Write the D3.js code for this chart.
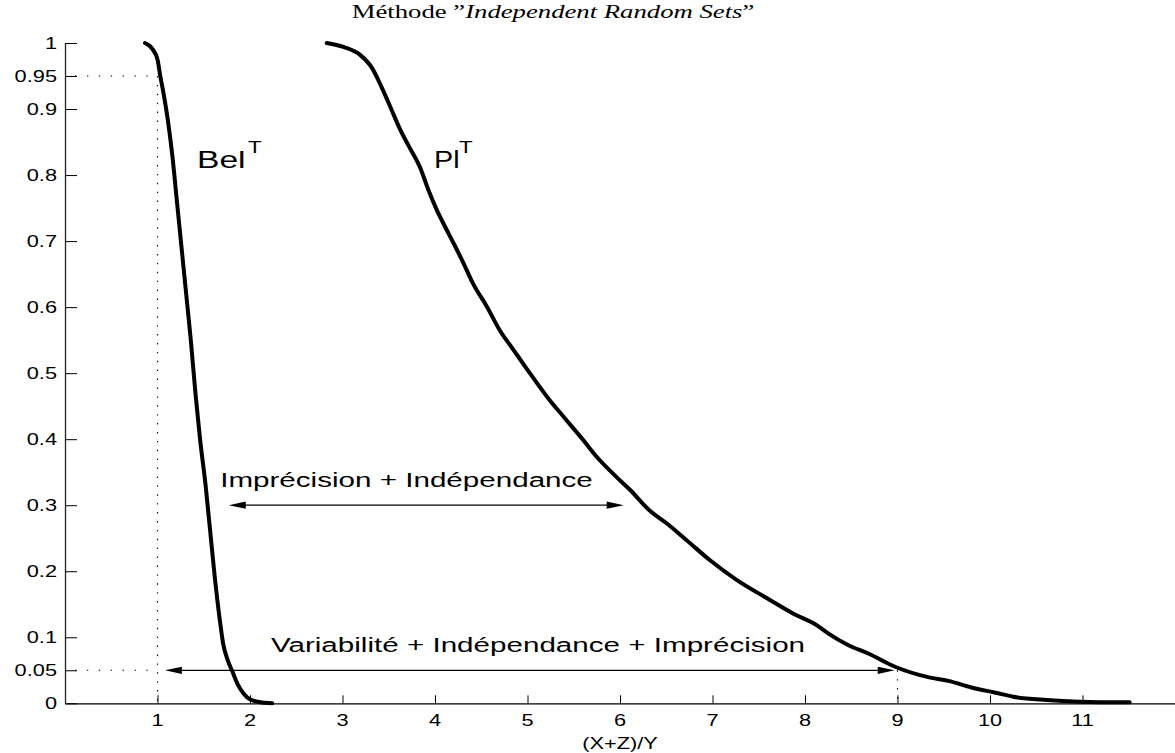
<!DOCTYPE html>
<html>
<head>
<meta charset="utf-8">
<script src="https://cdn.jsdelivr.net/npm/d3@7"></script>
<style>
  html, body { margin: 0; padding: 0; background: #fff; }
  svg { display: block; }
  .sans { font-family: "Liberation Sans", Arial, Helvetica, sans-serif; }
  .serif { font-family: "Liberation Serif", "DejaVu Serif", serif; }
</style>
</head>
<body>
<svg id="chart" width="1175" height="753"></svg>
<script>
// Lower bound (belief) of the output distribution
const belX = [0.865, 0.95, 1.0, 1.03, 1.07, 1.11, 1.16, 1.21, 1.26, 1.31, 1.36, 1.41, 1.46, 1.52, 1.57, 1.62, 1.67, 1.71, 1.76, 1.81, 1.87, 1.93, 2.0, 2.1, 2.24];
const belY = [1.0, 0.99, 0.975, 0.95, 0.92, 0.885, 0.83, 0.76, 0.69, 0.62, 0.55, 0.47, 0.40, 0.33, 0.26, 0.19, 0.13, 0.09, 0.065, 0.048, 0.028, 0.015, 0.006, 0.002, 0.0];

// Upper bound (plausibility) of the output distribution
const plX = [2.83, 3.01, 3.19, 3.32, 3.42, 3.53, 3.62, 3.72, 3.84, 3.93, 4.02, 4.09, 4.20, 4.31, 4.41, 4.56, 4.70, 4.85, 4.99, 5.24, 5.39, 5.60, 5.75, 5.96, 6.11, 6.32, 6.50, 6.72, 6.97, 7.26, 7.59, 7.87, 8.13, 8.25, 8.47, 8.69, 8.98, 9.32, 9.55, 9.80, 10.06, 10.25, 10.61, 10.97, 11.51];
const plY = [1.0, 0.994, 0.982, 0.962, 0.934, 0.899, 0.870, 0.843, 0.811, 0.777, 0.747, 0.727, 0.697, 0.666, 0.636, 0.601, 0.565, 0.535, 0.507, 0.459, 0.434, 0.399, 0.373, 0.343, 0.323, 0.292, 0.273, 0.247, 0.217, 0.187, 0.159, 0.136, 0.118, 0.106, 0.088, 0.075, 0.055, 0.040, 0.034, 0.024, 0.016, 0.010, 0.005, 0.0025, 0.0015];

// Axis ticks
const xTicks = [1, 2, 3, 4, 5, 6, 7, 8, 9, 10, 11];
const yTicks = [0, 0.05, 0.1, 0.2, 0.3, 0.4, 0.5, 0.6, 0.7, 0.8, 0.9, 0.95, 1];
const yTickLabels = ["0", "0.05", "0.1", "0.2", "0.3", "0.4", "0.5", "0.6", "0.7", "0.8", "0.9", "0.95", "1"];

// Quantile guides and interval arrows
const guideLevels = [0.95, 0.05];
const guideX = [1, 1];
const upperGuide = { x: 9, level: 0.05 };
const arrowImprecision = { from: 1.77, to: 6.04, level: 0.3, label: "Imprécision + Indépendance" };
const arrowTotal = { from: 1.08, to: 8.97, level: 0.05, label: "Variabilité + Indépendance + Imprécision" };

const svg = d3.select("#chart");
const x = d3.scaleLinear().domain([0, 12]).range([65, 1175]);
const y = d3.scaleLinear().domain([0, 1]).range([703.3, 43]);
const SX = 1.32; // horizontal glyph stretch of the figure

function stretchedText(g, px, py, txt, size, anchor, sx, cls) {
  return g.append("text")
    .attr("class", cls || "sans")
    .attr("transform", `translate(${px},${py}) scale(${sx},1)`)
    .attr("text-anchor", anchor)
    .attr("font-size", size)
    .attr("fill", "#000")
    .text(txt);
}

// Axes
const xAxis = d3.axisBottom(x).tickValues(xTicks).tickSizeInner(-8).tickSizeOuter(0).tickFormat("");
const gx = svg.append("g").attr("transform", `translate(0,${y(0)})`).call(xAxis);
gx.select(".domain").attr("stroke", "#000").attr("stroke-width", 1.3);
gx.selectAll(".tick line").attr("stroke", "#000").attr("stroke-width", 1);

const yAxis = d3.axisLeft(y).tickValues(yTicks).tickSizeInner(-12).tickSizeOuter(0).tickFormat("");
const gy = svg.append("g").attr("transform", `translate(${x(0)},0)`).call(yAxis);
gy.select(".domain").attr("stroke", "#222").attr("stroke-width", 1.3);
gy.selectAll(".tick line").attr("stroke", "#000").attr("stroke-width", 1);

// Tick labels (stretched like the rest of the figure's text)
const labels = svg.append("g");
xTicks.forEach(t => stretchedText(labels, x(t), 726, String(t), 16.5, "middle", SX));
yTicks.forEach((t, i) => stretchedText(labels, 57, y(t) + 6, yTickLabels[i], 16.5, "end", SX));

// Axis label and title
stretchedText(svg, x(6), 749, "(X+Z)/Y", 16.5, "middle", SX);
const title = svg.append("text")
  .attr("class", "serif")
  .attr("transform", `translate(553,18) scale(1.37,1)`)
  .attr("text-anchor", "middle")
  .attr("font-size", 19.5);
title.append("tspan").text("Méthode ”");
title.append("tspan").attr("font-style", "italic").text("Independent Random Sets");
title.append("tspan").text("”");

// Dotted quantile guides
const guides = svg.append("g").attr("stroke", "#000").attr("fill", "none").attr("stroke-width", 1.1);
guideLevels.forEach((lv, i) => {
  guides.append("line")
    .attr("x1", x(0) + 10).attr("x2", x(guideX[i]))
    .attr("y1", y(lv)).attr("y2", y(lv))
    .attr("stroke-dasharray", "1.4,10.5");
});
guides.append("line")
  .attr("x1", x(guideX[0])).attr("x2", x(guideX[0]))
  .attr("y1", y(guideLevels[0])).attr("y2", y(0))
  .attr("stroke-dasharray", "1.4,7.5");
guides.append("line")
  .attr("x1", x(upperGuide.x)).attr("x2", x(upperGuide.x))
  .attr("y1", y(upperGuide.level)).attr("y2", y(0))
  .attr("stroke-dasharray", "1.4,7.5");

// Curves
const line = d3.line().x(d => x(d[0])).y(d => y(d[1])).curve(d3.curveMonotoneX);
const curves = svg.append("g").attr("fill", "none").attr("stroke", "#000")
  .attr("stroke-width", 4).attr("stroke-linejoin", "round").attr("stroke-linecap", "round");
curves.append("path").attr("d", line(belX.map((v, i) => [v, belY[i]])));
curves.append("path").attr("d", line(plX.map((v, i) => [v, plY[i]])));

// Double-headed arrows
function doubleArrow(a) {
  const g = svg.append("g");
  const x1 = x(a.from), x2 = x(a.to), yy = y(a.level);
  const hl = 17, hw = 3.6;
  g.append("line").attr("x1", x1 + hl - 2).attr("x2", x2 - hl + 2)
    .attr("y1", yy).attr("y2", yy).attr("stroke", "#000").attr("stroke-width", 1.2);
  g.append("path").attr("d", `M${x1},${yy}L${x1 + hl},${yy - hw}L${x1 + hl},${yy + hw}Z`).attr("fill", "#000");
  g.append("path").attr("d", `M${x2},${yy}L${x2 - hl},${yy - hw}L${x2 - hl},${yy + hw}Z`).attr("fill", "#000");
}
doubleArrow(arrowImprecision);
doubleArrow(arrowTotal);

// Annotation texts
stretchedText(svg, 406.5, 487, arrowImprecision.label, 21, "middle", 1.41);
stretchedText(svg, 538, 652, arrowTotal.label, 21, "middle", 1.41);

// Curve labels with superscripts
stretchedText(svg, 197, 168, "Bel", 24, "start", 1.4);
stretchedText(svg, 248, 153, "T", 16, "start", 1.4);
stretchedText(svg, 434, 168, "Pl", 24, "start", 1.2);
stretchedText(svg, 459, 153, "T", 16, "start", 1.4);
</script>
</body>
</html>
